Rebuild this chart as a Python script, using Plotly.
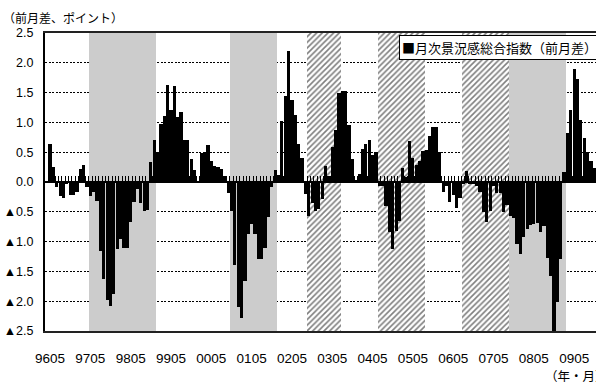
import plotly.graph_objects as go
import pandas as pd

# ---- data ----
start_month = "1996-05"
ci_diff = [
    0.64, 0.26, -0.08, -0.23, -0.26, -0.02, -0.21, -0.22, -0.16, 0.21, 0.28, -0.08,
    -0.23, -0.16, -0.32, -1.15, -1.62, -1.98, -2.08, -1.88, -1.13, -0.96, -1.11, -1.10,
    -0.67, -0.33, -0.11, -0.36, -0.49, -0.47, 0.34, 0.71, 0.50, 0.97, 1.11, 1.63,
    1.21, 1.61, 1.09, 1.17, 0.71, 0.71, 0.39, 0.20, 0.01, 0.48, 0.50, 0.62,
    0.35, 0.27, 0.25, 0.22, 0.10, -0.18, -0.48, -1.39, -2.09, -2.29, -1.66, -0.88,
    -0.71, -0.88, -1.30, -1.29, -1.11, -0.58, -0.09, 0.20, 0.11, 1.03, 1.45, 2.20,
    1.38, 1.13, 0.63, 0.41, -0.20, -0.57, -0.35, -0.48, -0.45, -0.29, 0.27, 0.10,
    0.59, 0.88, 1.49, 1.52, 1.53, 0.96, 0.39, 0.04, 0.14, 0.56, 0.63, 0.70,
    0.46, 0.50, -0.06, -0.07, -0.41, -0.84, -1.12, -0.82, -0.65, 0.24, 0.08, 0.69,
    0.41, 0.28, 0.35, 0.52, 0.54, 0.78, 0.93, 0.93, 0.50, -0.17, -0.06, -0.34,
    -0.22, -0.43, -0.26, -0.02, 0.18, -0.02, -0.02, -0.07, -0.16, -0.50, -0.67, -0.48,
    -0.07, -0.18, -0.19, -0.51, -0.38, -0.57, -0.61, -1.04, -1.21, -0.93, -0.79, -0.72,
    -0.71, -0.68, -0.84, -0.74, -1.27, -1.57, -2.55, -2.02, -1.29, 0.16, 0.82, 1.21,
    1.89, 1.72, 1.04, 0.74, 0.50, 0.35, 0.24, 0.70,
]
recession_periods = [("1997-05", "1998-12"), ("2000-11", "2001-12"), ("2007-10", "2009-02")]
slowdown_periods = [("2002-10", "2003-07"), ("2004-07", "2005-08"), ("2006-08", "2007-09")]
tick_labels = ["9605", "9705", "9805", "9905", "0005", "0105", "0205",
               "0305", "0405", "0505", "0605", "0705", "0805", "0905"]
ytick_vals = [-2.5, -2.0, -1.5, -1.0, -0.5, 0.0, 0.5, 1.0, 1.5, 2.0, 2.5]
ytick_text = ["▲2.5", "▲2.0", "▲1.5", "▲1.0", "▲0.5", "0.0", "0.5", "1.0", "1.5", "2.0", "2.5"]
series_name = "月次景況感総合指数（前月差）"
unit_label = "（前月差、ポイント）"
xaxis_label = "（年・月）"

# ---- derived ----
months = pd.period_range(start_month, periods=len(ci_diff), freq="M")
idx = {str(m): i for i, m in enumerate(months)}
x = list(range(len(ci_diff)))
tick_vals = [idx[("19" if t[0] == "9" else "20") + t[:2] + "-" + t[2:]] for t in tick_labels]

W_FIG, H_FIG = 596, 383
L, R, T, B = 45, 0, 33, 52
PW, PH = W_FIG - L - R, H_FIG - T - B


def pxx(px):
    return (px - L) / PW


def pxy(py):
    return (T + PH - py) / PH


NUM_FONT = "Liberation Sans, Arial, Noto Sans CJK JP, sans-serif"
JP_FONT = "Noto Sans CJK JP, sans-serif"

fig = go.Figure()

for a, b in recession_periods:
    i0, i1 = idx[a], idx[b]
    fig.add_trace(go.Bar(
        x=[(i0 + i1) / 2], y=[5], base=[-2.5], width=[i1 - i0 + 1],
        marker=dict(color="#cccccc", line=dict(width=0)),
        showlegend=False, hoverinfo="skip"))

for a, b in slowdown_periods:
    i0, i1 = idx[a], idx[b]
    fig.add_trace(go.Bar(
        x=[(i0 + i1) / 2], y=[5], base=[-2.5], width=[i1 - i0 + 1],
        marker=dict(color="white", line=dict(width=0),
                    pattern=dict(shape="/", fgcolor="black", bgcolor="white",
                                 size=4, solidity=0.4)),
        showlegend=False, hoverinfo="skip"))

fig.add_trace(go.Bar(
    x=x, y=ci_diff, width=0.95, name=series_name,
    marker=dict(color="black", line=dict(width=0)),
    cliponaxis=False, showlegend=False))

# dummy trace for the zero-line axis
fig.add_trace(go.Scatter(x=[0], y=[0], xaxis="x2", mode="markers",
                         marker=dict(opacity=0), showlegend=False, hoverinfo="skip"))

xr = [-1.5, len(ci_diff) - 1.5]
fig.update_layout(
    width=W_FIG, height=H_FIG,
    margin=dict(l=L, r=R, t=T, b=B, pad=0),
    paper_bgcolor="white", plot_bgcolor="white",
    barmode="overlay", bargap=0,
    xaxis=dict(range=xr, tickvals=tick_vals, ticktext=tick_labels,
               showgrid=False, zeroline=False, showline=True, linecolor="#222",
               linewidth=2, mirror=True, ticks="", ticklabelstandoff=14,
               tickfont=dict(family=NUM_FONT, size=13.5, color="black")),
    xaxis2=dict(range=xr, overlaying="x", anchor="free", position=0.5, side="top",
                tickvals=[i + 0.5 for i in range(-1, len(ci_diff))],
                ticks="outside", ticklen=5, tickwidth=1, tickcolor="black",
                showticklabels=False, showgrid=False, zeroline=False,
                showline=True, linecolor="black", linewidth=2),
    yaxis=dict(range=[-2.5, 2.5], tickvals=ytick_vals, ticktext=ytick_text,
               showgrid=True, gridcolor="black", gridwidth=1, griddash="2px,1.5px",
               zeroline=False, showline=True, linecolor="black", linewidth=2,
               ticks="", ticklabelstandoff=7,
               tickfont=dict(family=NUM_FONT, size=12.5, color="black")),
    annotations=[
        dict(text=unit_label, xref="paper", yref="paper", x=pxx(1), y=pxy(18),
             xanchor="left", yanchor="middle", showarrow=False,
             font=dict(family=JP_FONT, size=12, color="black")),
        dict(text=xaxis_label, xref="paper", yref="paper", x=pxx(543), y=pxy(375),
             xanchor="left", yanchor="middle", showarrow=False,
             font=dict(family=JP_FONT, size=12.5, color="black")),
        dict(text="■" + series_name, xref="paper", yref="paper", x=pxx(399), y=pxy(48),
             xanchor="left", yanchor="middle", showarrow=False,
             bgcolor="white", bordercolor="black", borderwidth=1, borderpad=2,
             font=dict(family=JP_FONT, size=13, color="black")),
    ],
)

fig.write_html("out.html", config={"displayModeBar": False},
               post_script="document.body.style.margin='0';document.body.style.overflow='hidden';")
